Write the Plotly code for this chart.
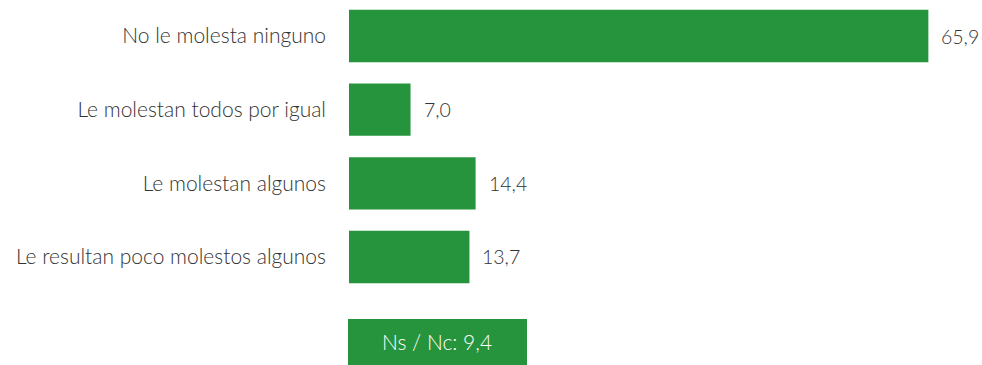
import plotly.graph_objects as go

categorias = ['No le molesta ninguno', 'Le molestan todos por igual',
              'Le molestan algunos', 'Le resultan poco molestos algunos']
valores = [65.9, 7.0, 14.4, 13.7]
ns_nc = 9.4

verde = '#26943c'
texto = '#333333'
fuente = 'Lato'
tam = 21


def fmt(v):
    # coma decimal
    return f'{v:.1f}'.replace('.', ',')


fig = go.Figure()
fig.add_trace(go.Bar(
    x=valores, y=categorias, orientation='h',
    marker=dict(color=verde, line=dict(width=0)),
    width=0.71,
    hoverinfo='skip',
))

# etiquetas de valor a la derecha de cada barra
for cat, v in zip(categorias, valores):
    fig.add_annotation(x=v, y=cat, text=fmt(v), showarrow=False,
                       xanchor='left', xshift=11,
                       font=dict(family=fuente, size=19.5, weight=300, color=texto))

# caja Ns / Nc
fig.add_shape(type='rect', xref='paper', yref='paper',
              x0=-0.0016, x1=0.2812, y0=-0.0814, y1=-0.24,
              fillcolor=verde, line=dict(width=0))
fig.add_annotation(xref='paper', yref='paper', x=0.1398, y=-0.1593,
                   xanchor='center', yanchor='middle',
                   text=f'Ns / Nc: {fmt(ns_nc)}', showarrow=False,
                   font=dict(family=fuente, size=tam, weight=300, color='white'))

fig.update_layout(
    width=982, height=365,
    margin=dict(l=349, r=0, t=0, b=70, autoexpand=False),
    plot_bgcolor='white', paper_bgcolor='white',
    showlegend=False,
    font=dict(family=fuente, size=tam, weight=300, color=texto),
)
fig.update_xaxes(range=[0, 72], visible=False)
fig.update_yaxes(range=[3.516, -0.489], showgrid=False, showline=False,
                 zeroline=False, ticks='', ticklabelstandoff=22,
                 tickfont=dict(family=fuente, size=tam, weight=300, color=texto))

# sin margen en la página para que la figura ocupe toda la ventana
fig.write_html('out.html', config={'displayModeBar': False},
               post_script="document.body.style.margin='0';document.body.style.overflow='hidden';")
